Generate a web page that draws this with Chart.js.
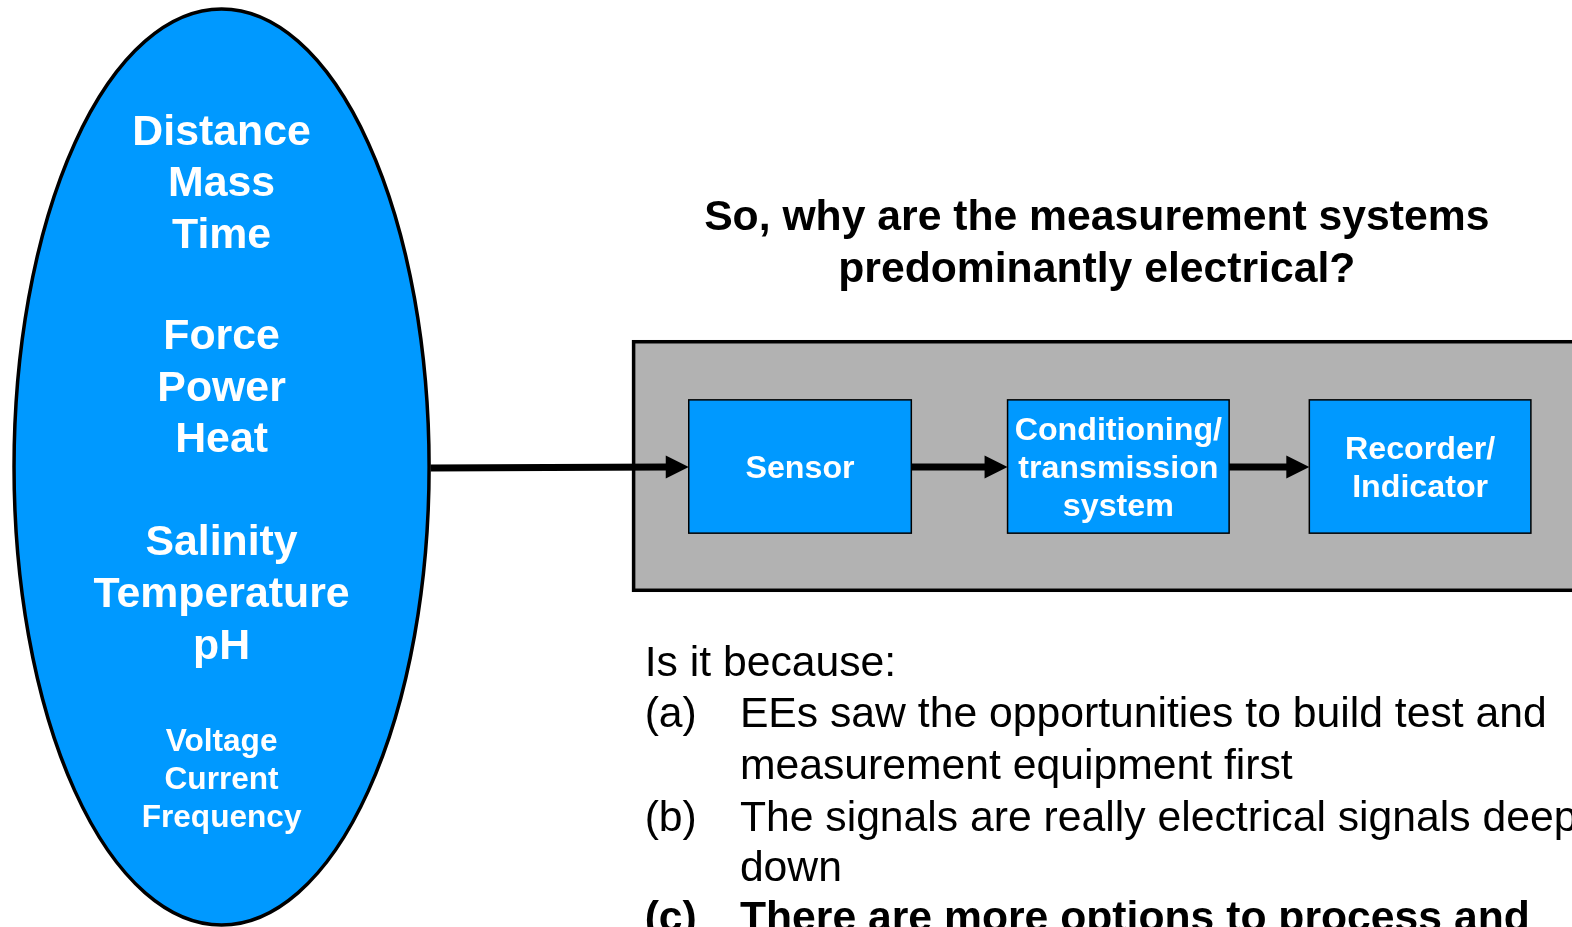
<!DOCTYPE html>
<html>
<head>
<meta charset="utf-8">
<script src="https://cdn.jsdelivr.net/npm/chart.js@4/dist/chart.umd.min.js"></script>
<style>
html,body{margin:0;padding:0;background:#fff;overflow:hidden;}
#wrap{width:1572px;height:927px;position:relative;}
</style>
</head>
<body>
<div id="wrap"><canvas id="c"></canvas></div>
<script>
// ---- content ----
const ellipseGroups = [["Distance","Mass","Time"],["Force","Power","Heat"],["Salinity","Temperature","pH"]];
const ellipseSmall = ["Voltage","Current","Frequency"];
const titleLines = ["So, why are the measurement systems","predominantly electrical?"];
const stageLabels = [["Sensor"],["Conditioning/","transmission","system"],["Recorder/","Indicator"]];
const introLine = "Is it because:";
const itemMarks = ["(a)","","(b)","","(c)"];
const itemLines = ["EEs saw the opportunities to build test and","measurement equipment first","The signals are really electrical signals deep","down","There are more options to process and"];
const itemBold = [false,false,false,false,true];

// ---- layout (axis units on a 1568 x 925 grid) ----
const L = {
  ellipse:{cx:221, cy:466, rx:207, ry:457},
  groupFirst:[130,334,540], bigStep:51.5, smallTop:738, smallStep:38,
  titleX:1094, titleY:[215,267],
  panel:{x0:632,y0:341,x1:1600,y1:589},
  stages:[[687,909],[1005,1226],[1306,1527]], stageY:[399,532], stageStep:38, stageMid:466,
  textX0:643, textX1:738, introY:660, itemY:[711,763,815,865,915]
};
const BLUE = "#0099FF", GRAY = "#B2B2B2";
const FONT = "'Liberation Sans', Arial, sans-serif";
const DY = 2.5; // baseline correction for 'middle'

const diagram = {
  id:'diagram',
  afterDraw(chart){
    const ctx = chart.ctx, xs = chart.scales.x, ys = chart.scales.y;
    const X = v => xs.getPixelForValue(v), Y = v => ys.getPixelForValue(v);
    const txt = (s, x, y, size, bold, color, align) => {
      ctx.font = (bold ? "bold " : "") + size + "px " + FONT;
      ctx.fillStyle = color; ctx.textAlign = align || "center"; ctx.textBaseline = "middle";
      ctx.fillText(s, X(x), Y(y + DY));
    };
    ctx.save();
    // ellipse
    const e = L.ellipse;
    ctx.beginPath();
    ctx.ellipse(X(e.cx), Y(e.cy), X(e.cx+e.rx)-X(e.cx), Y(e.cy+e.ry)-Y(e.cy), 0, 0, Math.PI*2);
    ctx.fillStyle = BLUE; ctx.fill();
    ctx.lineWidth = 3.5; ctx.strokeStyle = "#000"; ctx.stroke();
    ellipseGroups.forEach((g, gi) => {
      g.forEach((s, i) => txt(s, e.cx, L.groupFirst[gi] + i*L.bigStep, 42.8, true, "#fff"));
    });
    ellipseSmall.forEach((s, i) => txt(s, e.cx, L.smallTop + i*L.smallStep, 31.6, true, "#fff"));
    // title
    titleLines.forEach((s, i) => txt(s, L.titleX, L.titleY[i], 42.7, true, "#000"));
    // panel
    const p = L.panel;
    ctx.fillStyle = GRAY;
    ctx.fillRect(X(p.x0), Y(p.y0), X(p.x1)-X(p.x0), Y(p.y1)-Y(p.y0));
    ctx.lineWidth = 3.5; ctx.strokeStyle = "#000";
    ctx.strokeRect(X(p.x0), Y(p.y0), X(p.x1)-X(p.x0), Y(p.y1)-Y(p.y0));
    // stages
    L.stages.forEach((st, i) => {
      ctx.fillStyle = BLUE;
      ctx.fillRect(X(st[0]), Y(L.stageY[0]), X(st[1])-X(st[0]), Y(L.stageY[1])-Y(L.stageY[0]));
      ctx.lineWidth = 1.5; ctx.strokeStyle = "#000";
      ctx.strokeRect(X(st[0]), Y(L.stageY[0]), X(st[1])-X(st[0]), Y(L.stageY[1])-Y(L.stageY[0]));
      const lines = stageLabels[i], n = lines.length;
      lines.forEach((s, j) => txt(s, (st[0]+st[1])/2, L.stageMid + (j-(n-1)/2)*L.stageStep, 32.2, true, "#fff"));
    });
    // arrows
    const arrow = (x0, y0, x1, y1) => {
      const hl = 23, hw = 11.5;
      ctx.strokeStyle = "#000"; ctx.lineWidth = 7;
      ctx.beginPath(); ctx.moveTo(X(x0), Y(y0)); ctx.lineTo(X(x1)-hl+1, Y(y1)); ctx.stroke();
      ctx.fillStyle = "#000";
      ctx.beginPath(); ctx.moveTo(X(x1), Y(y1)); ctx.lineTo(X(x1)-hl, Y(y1)-hw); ctx.lineTo(X(x1)-hl, Y(y1)+hw); ctx.closePath(); ctx.fill();
    };
    arrow(e.cx+e.rx+1.5, 467, L.stages[0][0], 466);
    arrow(L.stages[0][1], 466, L.stages[1][0], 466);
    arrow(L.stages[1][1], 466, L.stages[2][0], 466);
    // body text
    txt(introLine, L.textX0, L.introY, 42.7, false, "#000", "left");
    itemLines.forEach((s, i) => {
      if (itemMarks[i]) txt(itemMarks[i], L.textX0, L.itemY[i], 42.7, itemBold[i], "#000", "left");
      txt(s, L.textX1, L.itemY[i], 42.7, itemBold[i], "#000", "left");
    });
    ctx.restore();
  }
};

new Chart(document.getElementById('c'), {
  type:'scatter',
  data:{datasets:[{data:[], pointRadius:0}]},
  options:{
    responsive:true, maintainAspectRatio:false, animation:false,
    layout:{padding:0},
    plugins:{legend:{display:false}, tooltip:{enabled:false}},
    scales:{
      x:{type:'linear', min:0, max:1568, display:false},
      y:{type:'linear', min:0, max:925, reverse:true, display:false}
    }
  },
  plugins:[diagram]
});
</script>
</body>
</html>
